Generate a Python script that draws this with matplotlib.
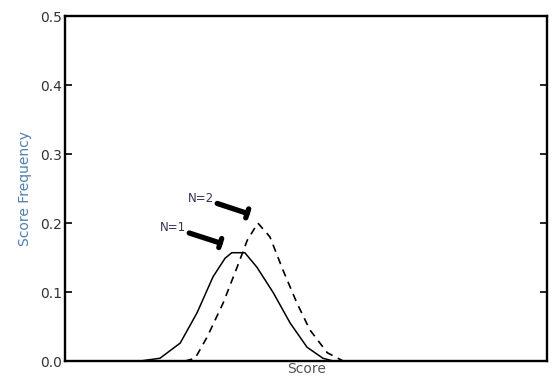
import matplotlib.pyplot as plt

# curva N=1 (linea continua)
score_n1 = [0, 15.6, 19.7, 23.9, 27.4, 30.7, 33.2, 34.6, 37.3, 39.8, 43.2, 46.7, 50.2, 53.5, 55.6, 58.0]
freq_n1 = [0, 0.0, 0.004, 0.026, 0.070, 0.122, 0.149, 0.157, 0.157, 0.136, 0.099, 0.055, 0.020, 0.004, 0.0, 0.0]

# curva N=2 (linea discontinua)
score_n2 = [24.9, 27.0, 29.5, 32.8, 35.7, 37.8, 40.0, 42.5, 45.2, 48.1, 50.8, 54.4, 57.7]
freq_n2 = [0.0, 0.004, 0.035, 0.084, 0.136, 0.175, 0.200, 0.180, 0.132, 0.084, 0.045, 0.012, 0.0]

y_ticks = [0.0, 0.1, 0.2, 0.3, 0.4, 0.5]

fig = plt.figure(figsize=(5.55, 3.83), dpi=100)
ax = fig.add_axes([0.117, 0.0574, 0.869, 0.9006])

ax.plot(score_n1, freq_n1, color='black', lw=1.1)
ax.plot(score_n2, freq_n2, color='black', lw=1.2, linestyle=(0, (4.5, 3.5)))

ax.set_xlim(0, 100)
ax.set_ylim(0, 0.5)
ax.set_yticks(y_ticks)
ax.set_yticklabels(['%.1f' % v for v in y_ticks], fontsize=10, color='#333333')
ax.set_xticks([])
ax.tick_params(axis='y', direction='in', length=5, width=1.2, right=True, pad=2)

for s in ax.spines.values():
    s.set_linewidth(1.7)

ax.set_xlabel('Score', fontsize=10, color='#555555', labelpad=1)
ax.set_ylabel('Score Frequency', fontsize=10, color='#4f7fae', labelpad=6)

flecha = dict(arrowstyle='-[, widthB=0.4, lengthB=0.0', lw=3.8, color='black',
              shrinkA=0, shrinkB=0)
ax.annotate('N=1', xy=(32.2, 0.171), xytext=(25.2, 0.193), fontsize=8.5,
            color='#333355', ha='right', va='center', arrowprops=flecha)
ax.annotate('N=2', xy=(37.8, 0.214), xytext=(31.0, 0.236), fontsize=8.5,
            color='#333355', ha='right', va='center', arrowprops=flecha)

fig.savefig('out.png', dpi=100)
